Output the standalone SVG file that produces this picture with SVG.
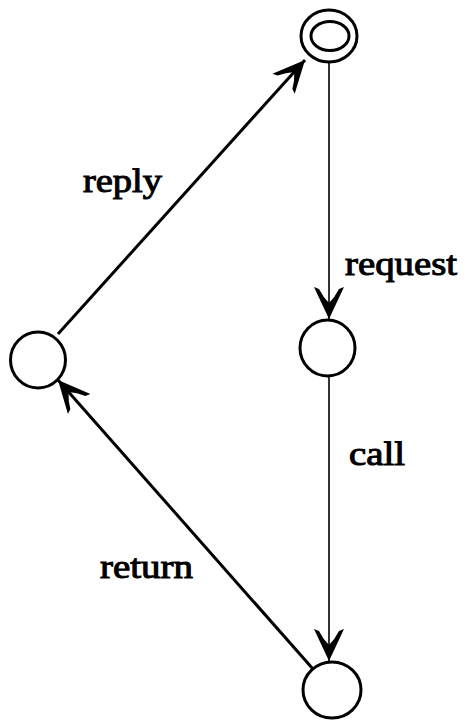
<svg xmlns="http://www.w3.org/2000/svg" width="467" height="721" viewBox="0 0 467 721">
<style>
.node{fill:#fff;stroke:#000;stroke-width:3}
.thin{fill:none;stroke:#000;stroke-width:1.6}
.thick{fill:none;stroke:#000;stroke-width:3}
.lbl{font-family:"Liberation Serif","Times New Roman",serif;font-size:33px;fill:#000;stroke:#000;stroke-width:1}
</style>
<defs>
<marker id="arr" markerUnits="userSpaceOnUse" markerWidth="40" markerHeight="34" viewBox="-34 -17 36 34" refX="0" refY="0" orient="auto">
<path d="M0,0 L-32,-15 L-30,-10 Q-22,-6 -16,0 Q-22,6 -30,10 L-32,15 Z" fill="#000"/>
</marker>
</defs>
<rect width="467" height="721" fill="#fff"/>
<g id="connectors">
<line class="thin" x1="329" y1="63" x2="329" y2="319" marker-end="url(#arr)"/>
<line class="thin" x1="329" y1="377" x2="329" y2="661" marker-end="url(#arr)"/>
<line class="thick" x1="58" y1="334" x2="305" y2="60" marker-end="url(#arr)"/>
<line class="thick" x1="313" y1="669" x2="58" y2="380" marker-end="url(#arr)"/>
</g>
<g id="node-top">
<ellipse class="node" cx="329" cy="36" rx="28" ry="26"/>
<ellipse class="node" cx="330" cy="36" rx="19" ry="14.5"/>
</g>
<g id="node-middle">
<ellipse class="node" cx="327.5" cy="348" rx="27.5" ry="28"/>
</g>
<g id="node-left">
<ellipse class="node" cx="38" cy="360" rx="27.5" ry="28"/>
</g>
<g id="node-bottom">
<ellipse class="node" cx="332" cy="690" rx="29" ry="28"/>
</g>
<g id="labels">
<text class="lbl" x="83" y="192" textLength="79" lengthAdjust="spacingAndGlyphs">reply</text>
<text class="lbl" x="345" y="275" textLength="112" lengthAdjust="spacingAndGlyphs">request</text>
<text class="lbl" x="349" y="465" textLength="56" lengthAdjust="spacingAndGlyphs">call</text>
<text class="lbl" x="100" y="578" textLength="93" lengthAdjust="spacingAndGlyphs">return</text>
</g>
</svg>
